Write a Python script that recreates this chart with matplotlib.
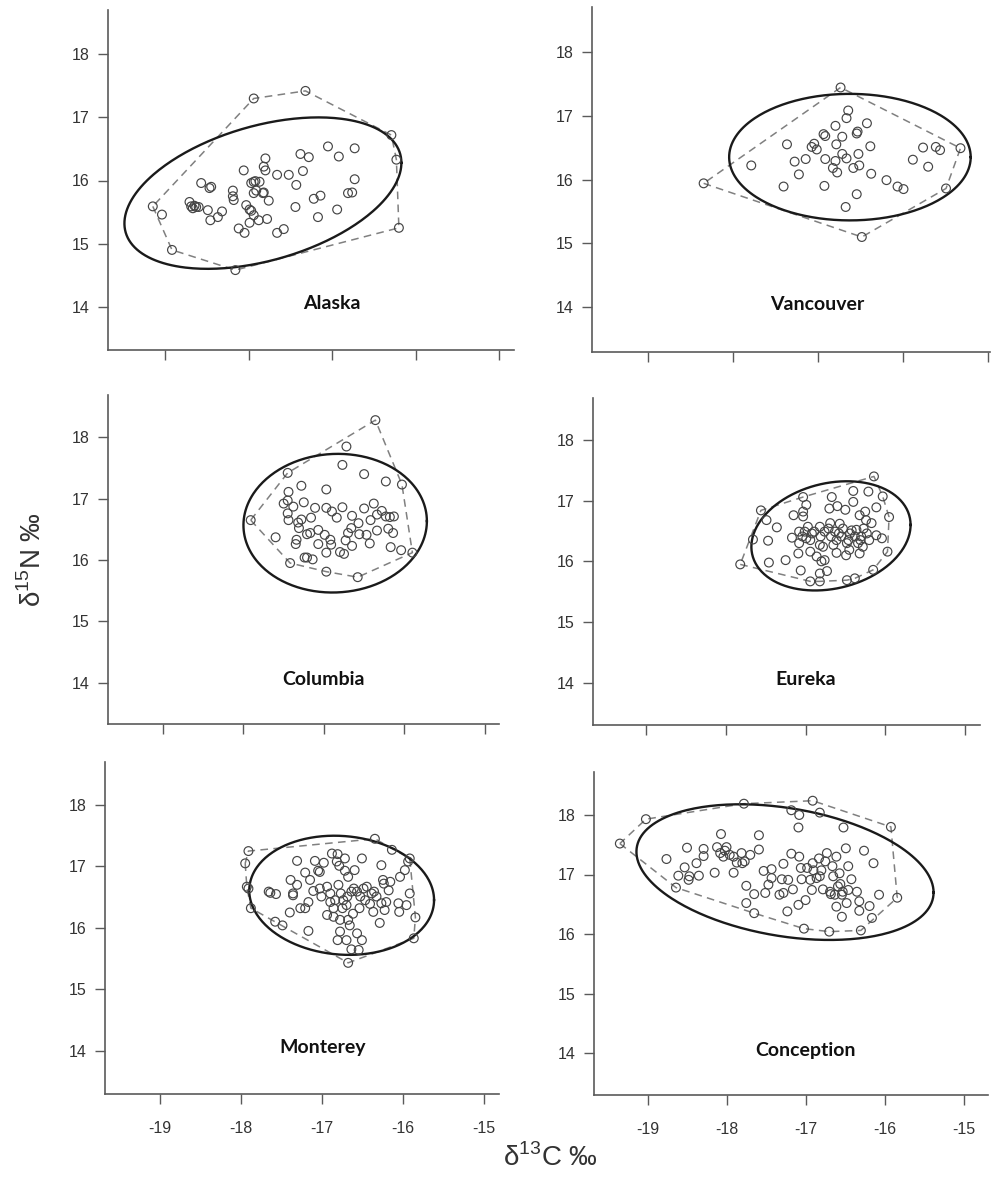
import numpy as np
import matplotlib
matplotlib.use("Agg")
import matplotlib.pyplot as plt
from matplotlib import font_manager

installed = {f.name for f in font_manager.fontManager.ttflist}
narrow = 'Liberation Sans Narrow' if 'Liberation Sans Narrow' in installed else 'Liberation Sans'
plt.rcParams['font.family'] = [narrow, 'DejaVu Sans']
plt.rcParams['mathtext.fontset'] = 'custom'
plt.rcParams['mathtext.rm'] = narrow
plt.rcParams['axes.unicode_minus'] = False

sites = ['Alaska', 'Vancouver', 'Columbia', 'Eureka', 'Monterey', 'Conception']

# d13C, d15N per individual
alaska = [(-19.15, 15.59), (-19.04, 15.46), (-18.92, 14.90), (-18.16, 14.58), (-16.20, 15.25),
          (-16.23, 16.33), (-16.29, 16.72), (-17.32, 17.42), (-17.94, 17.30),
          (-18.71, 15.66), (-18.69, 15.59), (-18.65, 15.60), (-18.63, 15.58), (-18.67, 15.56),
          (-18.60, 15.58), (-18.57, 15.96), (-18.45, 15.90), (-18.47, 15.88), (-18.49, 15.53),
          (-18.46, 15.37), (-18.37, 15.42), (-18.32, 15.51), (-18.19, 15.84), (-18.19, 15.75),
          (-18.18, 15.69), (-18.12, 15.24), (-18.05, 15.17), (-18.06, 16.16), (-18.03, 15.61),
          (-17.99, 15.54), (-17.97, 15.52), (-17.94, 15.45), (-17.99, 15.33), (-17.97, 15.96),
          (-17.94, 15.98), (-17.92, 15.99), (-17.87, 15.98), (-17.94, 15.80), (-17.91, 15.84),
          (-17.88, 15.37), (-17.78, 15.39), (-17.83, 15.80), (-17.82, 15.81), (-17.76, 15.68),
          (-17.80, 16.35), (-17.82, 16.22), (-17.80, 16.16), (-17.66, 16.09), (-17.66, 15.17),
          (-17.58, 15.23), (-17.52, 16.09), (-17.43, 15.93), (-17.44, 15.58), (-17.38, 16.42),
          (-17.28, 16.37), (-17.35, 16.15), (-17.22, 15.71), (-17.14, 15.76), (-17.17, 15.42),
          (-17.05, 16.54), (-16.92, 16.38), (-16.73, 16.51), (-16.94, 15.54), (-16.81, 15.80),
          (-16.76, 15.81), (-16.73, 16.02)]

vancouver = [(-18.34, 15.94), (-16.73, 17.44), (-15.32, 16.49), (-15.49, 15.86), (-16.48, 15.10),
             (-17.78, 16.22), (-17.40, 15.89), (-17.36, 16.55), (-17.27, 16.28), (-17.22, 16.08),
             (-17.14, 16.32), (-17.07, 16.51), (-17.04, 16.56), (-17.01, 16.47), (-16.93, 16.71),
             (-16.91, 16.68), (-16.92, 15.90), (-16.91, 16.32), (-16.82, 16.18), (-16.79, 16.84),
             (-16.78, 16.55), (-16.77, 16.11), (-16.79, 16.29), (-16.71, 16.40), (-16.71, 16.67),
             (-16.66, 16.96), (-16.64, 17.08), (-16.66, 16.33), (-16.58, 16.18), (-16.54, 16.72),
             (-16.53, 16.75), (-16.52, 16.40), (-16.51, 16.22), (-16.54, 15.77), (-16.67, 15.57),
             (-16.42, 16.88), (-16.38, 16.52), (-16.37, 16.09), (-16.19, 15.99), (-16.06, 15.89),
             (-15.99, 15.85), (-15.88, 16.31), (-15.76, 16.50), (-15.70, 16.20), (-15.61, 16.51),
             (-15.56, 16.46)]

columbia = [(-17.91, 16.65), (-17.45, 17.42), (-16.72, 17.85), (-16.36, 18.28), (-16.03, 17.23),
            (-15.90, 16.12), (-16.58, 15.72), (-16.97, 15.81), (-17.42, 15.95), (-17.44, 17.11),
            (-17.28, 17.21), (-17.50, 16.92), (-17.45, 16.97), (-17.38, 16.87), (-17.45, 16.76),
            (-17.44, 16.65), (-17.25, 16.94), (-17.32, 16.61), (-17.28, 16.66), (-17.16, 16.69),
            (-17.31, 16.52), (-17.21, 16.42), (-17.17, 16.44), (-17.11, 16.85), (-17.07, 16.49),
            (-16.97, 17.15), (-16.97, 16.85), (-16.90, 16.79), (-16.84, 16.69), (-16.77, 16.86),
            (-16.77, 17.55), (-16.99, 16.41), (-16.92, 16.33), (-16.91, 16.25), (-17.07, 16.26),
            (-16.97, 16.12), (-17.34, 16.33), (-17.35, 16.26), (-17.24, 16.04), (-17.21, 16.04),
            (-17.14, 16.01), (-16.80, 16.13), (-16.75, 16.10), (-16.73, 16.32), (-16.70, 16.44),
            (-16.66, 16.52), (-16.65, 16.72), (-16.65, 16.23), (-16.57, 16.60), (-16.56, 16.42),
            (-16.50, 16.84), (-16.50, 17.40), (-16.47, 16.41), (-16.43, 16.27), (-16.42, 16.65),
            (-16.38, 16.92), (-16.34, 16.48), (-16.34, 16.74), (-16.28, 16.80), (-16.23, 17.28),
            (-16.23, 16.71), (-16.20, 16.51), (-16.14, 16.44), (-16.18, 16.70), (-16.13, 16.71),
            (-16.17, 16.21), (-16.04, 16.16), (-17.60, 16.37)]

eureka = [(-17.82, 15.95), (-17.66, 16.36), (-17.56, 16.84), (-17.49, 16.68), (-17.36, 16.56),
          (-17.47, 16.34), (-17.46, 15.98), (-17.25, 16.02), (-17.17, 16.39), (-17.15, 16.76),
          (-17.06, 15.85), (-17.09, 16.13), (-17.08, 16.30), (-17.03, 17.06), (-16.99, 16.93),
          (-17.03, 16.82), (-17.03, 16.74), (-17.04, 16.41), (-16.99, 16.38), (-16.94, 16.16),
          (-16.94, 16.35), (-16.92, 16.46), (-16.86, 16.08), (-16.82, 16.57), (-16.81, 16.41),
          (-16.80, 16.00), (-16.82, 15.80), (-16.78, 16.24), (-16.76, 16.02), (-16.73, 15.84),
          (-16.69, 16.63), (-16.68, 16.41), (-16.67, 17.06), (-16.70, 16.87), (-16.65, 16.27),
          (-16.61, 16.14), (-16.60, 16.91), (-16.57, 16.62), (-16.58, 16.46), (-16.55, 16.41),
          (-16.50, 16.85), (-16.49, 16.10), (-16.48, 15.69), (-16.46, 16.35), (-16.45, 16.19),
          (-16.42, 16.51), (-16.40, 17.16), (-16.40, 16.98), (-16.38, 15.72), (-16.36, 16.52),
          (-16.34, 16.30), (-16.32, 16.13), (-16.32, 16.76), (-16.30, 16.41), (-16.28, 16.24),
          (-16.25, 16.82), (-16.24, 16.68), (-16.23, 16.46), (-16.21, 17.15), (-16.20, 16.35),
          (-16.17, 16.63), (-16.15, 15.86), (-16.14, 17.40), (-16.11, 16.89), (-16.11, 16.43),
          (-16.04, 16.38), (-16.03, 17.07), (-15.97, 16.16), (-15.95, 16.73),
          (-17.08, 16.49), (-17.01, 16.49), (-16.89, 16.49), (-16.76, 16.49), (-16.71, 16.54),
          (-16.63, 16.49), (-16.53, 16.54), (-16.44, 16.46), (-16.38, 16.41), (-16.31, 16.35),
          (-16.27, 16.54), (-16.97, 16.57), (-16.82, 16.27), (-16.61, 16.35), (-16.48, 16.30),
          (-16.94, 15.67), (-16.82, 15.67)]

monterey = [(-17.91, 17.25), (-17.95, 17.05), (-17.93, 16.67), (-17.91, 16.64), (-17.88, 16.32),
            (-17.66, 16.59), (-17.64, 16.57), (-17.57, 16.55), (-17.58, 16.10), (-17.49, 16.04),
            (-17.39, 16.78), (-17.36, 16.56), (-17.36, 16.53), (-17.31, 16.70), (-17.40, 16.25),
            (-17.31, 17.09), (-17.27, 16.32), (-17.21, 16.32), (-17.21, 16.90), (-17.17, 16.42),
            (-17.17, 15.95), (-17.15, 16.78), (-17.11, 16.60), (-17.09, 17.09), (-17.05, 16.93),
            (-17.03, 16.91), (-17.01, 16.51), (-16.98, 17.06), (-16.94, 16.21), (-16.94, 16.67),
            (-16.90, 16.42), (-16.88, 17.21), (-16.86, 16.18), (-16.84, 16.45), (-16.82, 17.08),
            (-16.81, 17.20), (-16.80, 16.70), (-16.79, 17.01), (-16.78, 16.13), (-16.77, 16.56),
            (-16.74, 16.45), (-16.72, 17.13), (-16.72, 16.93), (-16.70, 16.37), (-16.69, 16.51),
            (-16.68, 16.13), (-16.68, 16.83), (-16.66, 16.04), (-16.64, 16.59), (-16.62, 16.23),
            (-16.61, 16.64), (-16.60, 16.94), (-16.57, 16.59), (-16.57, 15.91), (-16.54, 16.32),
            (-16.53, 16.51), (-16.51, 15.80), (-16.51, 17.13), (-16.49, 16.64), (-16.47, 16.45),
            (-16.45, 16.67), (-16.41, 16.39), (-16.39, 16.56), (-16.37, 16.26), (-16.36, 16.59),
            (-16.33, 16.51), (-16.29, 16.08), (-16.27, 17.02), (-16.27, 16.40), (-16.25, 16.78),
            (-16.24, 16.72), (-16.23, 16.29), (-16.21, 16.42), (-16.18, 16.61), (-16.16, 16.75),
            (-16.14, 17.27), (-16.06, 16.40), (-16.05, 16.26), (-16.04, 16.83), (-15.98, 16.94),
            (-15.96, 16.37), (-15.94, 17.08), (-15.92, 16.56), (-15.87, 15.83), (-15.85, 16.17),
            (-15.92, 17.13), (-16.35, 17.45), (-16.81, 15.80), (-16.78, 15.94), (-16.70, 15.80),
            (-16.64, 15.65), (-16.55, 15.64), (-16.68, 15.43), (-16.86, 16.32), (-17.03, 16.64),
            (-16.90, 16.56), (-16.75, 16.32)]

conception = [(-19.35, 17.52), (-19.02, 17.93), (-17.78, 18.19), (-16.91, 18.24), (-15.92, 17.80),
              (-15.84, 16.61), (-16.16, 16.27), (-16.30, 16.06), (-16.70, 16.04), (-17.02, 16.09),
              (-17.65, 16.35), (-18.64, 16.78), (-18.76, 17.26), (-18.61, 16.98), (-18.53, 17.12),
              (-18.50, 17.45), (-18.48, 16.91), (-18.47, 16.97), (-18.38, 17.19), (-18.35, 16.98),
              (-18.29, 17.43), (-18.29, 17.31), (-18.15, 17.03), (-18.12, 17.46), (-18.07, 17.68),
              (-18.02, 17.40), (-18.00, 17.46), (-18.04, 17.30), (-17.91, 17.30), (-17.91, 17.03),
              (-17.87, 17.20), (-17.81, 17.36), (-17.80, 17.19), (-17.77, 17.22), (-17.70, 17.33),
              (-17.59, 17.66), (-17.59, 17.42), (-17.75, 16.81), (-17.75, 16.52), (-17.65, 16.67),
              (-17.53, 17.06), (-17.51, 16.69), (-17.47, 16.83), (-17.43, 17.09), (-17.43, 16.94),
              (-17.33, 16.66), (-17.30, 16.92), (-17.28, 17.18), (-17.28, 16.69), (-17.23, 16.38),
              (-17.22, 16.91), (-17.18, 17.35), (-17.16, 16.75), (-17.08, 17.30), (-17.09, 16.49),
              (-17.06, 17.11), (-17.05, 16.92), (-17.00, 16.57), (-16.98, 17.11), (-16.94, 16.91),
              (-16.92, 16.74), (-16.91, 17.19), (-16.90, 17.07), (-16.86, 16.94), (-16.83, 17.27),
              (-16.82, 16.97), (-16.80, 17.07), (-16.78, 16.75), (-16.75, 17.22), (-16.73, 17.36),
              (-16.69, 16.71), (-16.68, 16.67), (-16.66, 17.14), (-16.65, 16.97), (-16.63, 16.66),
              (-16.61, 17.30), (-16.61, 16.46), (-16.59, 16.80), (-16.57, 17.02), (-16.56, 16.84),
              (-16.54, 16.66), (-16.54, 16.29), (-16.53, 16.71), (-16.52, 17.79), (-16.49, 17.44),
              (-16.48, 16.52), (-16.46, 17.14), (-16.46, 16.74), (-16.42, 16.92), (-16.35, 16.71),
              (-16.32, 16.55), (-16.32, 16.39), (-16.26, 17.40), (-16.19, 16.47), (-16.14, 17.19),
              (-16.07, 16.66), (-17.18, 18.08), (-17.08, 18.00), (-17.09, 17.79), (-16.82, 18.04),
              (-18.08, 17.36), (-17.96, 17.33)]

# ellipse: centre, x / y half-extent, correlation
ell_cx = [-17.83, -16.62, -16.86, -16.68, -16.76, -17.26]
ell_cy = [15.80, 16.35, 16.60, 16.42, 16.53, 17.04]
ell_sx = [1.66, 1.42, 1.14, 1.00, 1.14, 1.88]
ell_sy = [1.20, 0.99, 1.13, 0.90, 0.97, 1.14]
ell_rho = [0.40, 0.0, 0.03, 0.20, -0.08, -0.30]

x_ticks = [-19, -18, -17, -16, -15]
y_ticks = [14, 15, 16, 17, 18]

W, H = 991, 1180
fig = plt.figure(figsize=(W / 100, H / 100), dpi=100)

# panel boxes in pixels (left, right, top, bottom) and pixel of x=-19/-15, y=18/14
boxes = [(108, 514, 10, 350), (592, 990, 7, 352),
         (108, 499, 395, 724), (593, 980, 398, 725),
         (105, 499, 762, 1094), (594, 988, 772, 1095)]
xref = [(165.3, 499.0), (647.5, 987.7), (163.0, 484.8), (646.3, 964.7), (160.1, 484.3), (647.5, 963.6)]
yref = [(54.3, 306.7), (51.7, 307.3), (437.3, 682.7), (440.0, 682.7), (805.0, 1050.7), (815.0, 1053.0)]


def convex_hull(pts):
    pts = sorted(set(pts))
    def cross(o, a, b):
        return (a[0] - o[0]) * (b[1] - o[1]) - (a[1] - o[1]) * (b[0] - o[0])
    lower, upper = [], []
    for p in pts:
        while len(lower) >= 2 and cross(lower[-2], lower[-1], p) <= 0:
            lower.pop()
        lower.append(p)
    for p in reversed(pts):
        while len(upper) >= 2 and cross(upper[-2], upper[-1], p) <= 0:
            upper.pop()
        upper.append(p)
    return lower[:-1] + upper[:-1]


data = [alaska, vancouver, columbia, eureka, monterey, conception]
axis_col = '#5a5a5a'

for i, (name, pts) in enumerate(zip(sites, data)):
    l, r, t, b = boxes[i]
    ax = fig.add_axes([l / W, 1 - b / H, (r - l) / W, (b - t) / H])
    x19, x15 = xref[i]
    sx = (x15 - x19) / 4
    ax.set_xlim(-19 + (l - x19) / sx, -19 + (r - x19) / sx)
    y18, y14 = yref[i]
    sy = (y14 - y18) / 4
    ax.set_ylim(14 - (b - y14) / sy, 18 + (y18 - t) / sy)

    arr = np.array(pts)
    hull = convex_hull(pts)
    hull = np.array(hull + [hull[0]])
    ax.plot(hull[:, 0], hull[:, 1], color='#808080', lw=1.1, ls=(0, (5, 3.5)), zorder=2)

    tt = np.linspace(0, 2 * np.pi, 300)
    ex = ell_cx[i] + ell_sx[i] * np.cos(tt)
    ey = ell_cy[i] + ell_sy[i] * (ell_rho[i] * np.cos(tt) + np.sqrt(1 - ell_rho[i] ** 2) * np.sin(tt))
    ax.plot(ex, ey, color='#1a1a1a', lw=1.7, zorder=3)

    ax.scatter(arr[:, 0], arr[:, 1], s=40, facecolors='none', edgecolors='#454545',
               linewidths=0.85, zorder=4)

    ax.text(-17.0, 14.05, name, ha='center', va='center', fontsize=14,
            fontweight='bold', family=['Lato', 'DejaVu Sans'], color='#111111')

    for side in ['top', 'right']:
        ax.spines[side].set_visible(False)
    for side in ['left', 'bottom']:
        ax.spines[side].set_color(axis_col)
        ax.spines[side].set_linewidth(1.2)
    ax.set_xticks(x_ticks)
    ax.set_yticks(y_ticks)
    ax.tick_params(direction='out', length=7.5, width=1.0, color=axis_col,
                   labelsize=11.5, labelcolor='#333333', pad=6)
    if i < 4:
        ax.set_xticklabels([])
    else:
        ax.tick_params(axis='x', pad=12)

fig.text(550 / W, 1 - 1158 / H, 'δ$^{13}$C ‰', ha='center', va='center', fontsize=20, color='#333333')
fig.text(33 / W, 1 - 560 / H, 'δ$^{15}$N ‰', ha='center', va='center', rotation=90,
         fontsize=20, color='#333333')

fig.savefig('out.png', dpi=100)
